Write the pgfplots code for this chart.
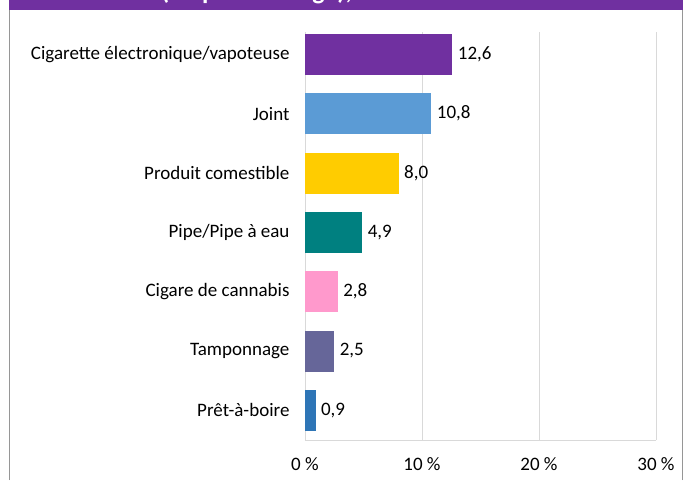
\documentclass[border=0pt]{standalone}
\usepackage{fontspec}
\setmainfont{Carlito}
\usepackage{pgfplots}
\pgfplotsset{compat=1.18}
\definecolor{cpurple}{RGB}{112,48,160}
\definecolor{cblue}{RGB}{91,155,213}
\definecolor{cgold}{RGB}{255,204,0}
\definecolor{cteal}{RGB}{0,128,128}
\definecolor{cpink}{RGB}{255,153,204}
\definecolor{cslate}{RGB}{102,102,153}
\definecolor{cdblue}{RGB}{46,117,182}
\definecolor{gridgray}{RGB}{217,217,217}
\definecolor{framegray}{RGB}{150,150,150}

\begin{document}
\begin{tikzpicture}
\useasboundingbox (0,0) rectangle (691pt,480pt);
% frame and title band (title is cut off at the top)
\draw[framegray, line width=1pt] (9pt,0) -- (9pt,470pt);
\draw[framegray, line width=1pt] (682pt,0) -- (682pt,470pt);
\begin{scope}
\clip (0,0) rectangle (691pt,480pt);
\fill[cpurple] (9pt,470pt) rectangle (683pt,482pt);
\node[anchor=base west, inner sep=0pt, text=white, font=\fontsize{26}{30}\selectfont\bfseries]
  at (161pt,480pt) {(en pourcentage),};
\end{scope}

\begin{axis}[
  at={(305pt,40pt)}, anchor=south west,
  scale only axis,
  width=351pt, height=407.6pt,
  xbar, bar width=41pt, bar shift=0pt,
  xmin=0, xmax=30,
  ymin=-0.5, ymax=6.37,
  xtick={0,10,20,30},
  xticklabels={0~\%,10~\%,20~\%,30~\%},
  ytick={0,1,2,3,4,5,6},
  yticklabels={Prêt-à-boire,Tamponnage,Cigare de cannabis,Pipe/Pipe à eau,
    Produit comestible,Joint,Cigarette électronique/vapoteuse},
  xmajorgrids, grid style={gridgray, line width=0.8pt},
  axis x line*=bottom, axis y line*=left,
  x axis line style={gridgray, line width=0.8pt, -},
  y axis line style={draw=none},
  major tick length=0pt,
  tick label style={font=\fontsize{19}{22}\selectfont},
  yticklabel style={xshift=-12pt},
  xticklabel style={yshift=-14pt},
  nodes near coords,
  nodes near coords style={font=\fontsize{19}{22}\selectfont, anchor=west, xshift=2pt,
    /pgf/number format/.cd, fixed, fixed zerofill, precision=1, use comma,
    assume math mode=true},
]
\addplot[fill=cpurple, draw=none] coordinates {(12.6,6)};
\addplot[fill=cblue, draw=none] coordinates {(10.8,5)};
\addplot[fill=cgold, draw=none] coordinates {(8.0,4)};
\addplot[fill=cteal, draw=none] coordinates {(4.9,3)};
\addplot[fill=cpink, draw=none] coordinates {(2.8,2)};
\addplot[fill=cslate, draw=none] coordinates {(2.5,1)};
\addplot[fill=cdblue, draw=none] coordinates {(0.9,0)};
\end{axis}
\end{tikzpicture}
\end{document}
